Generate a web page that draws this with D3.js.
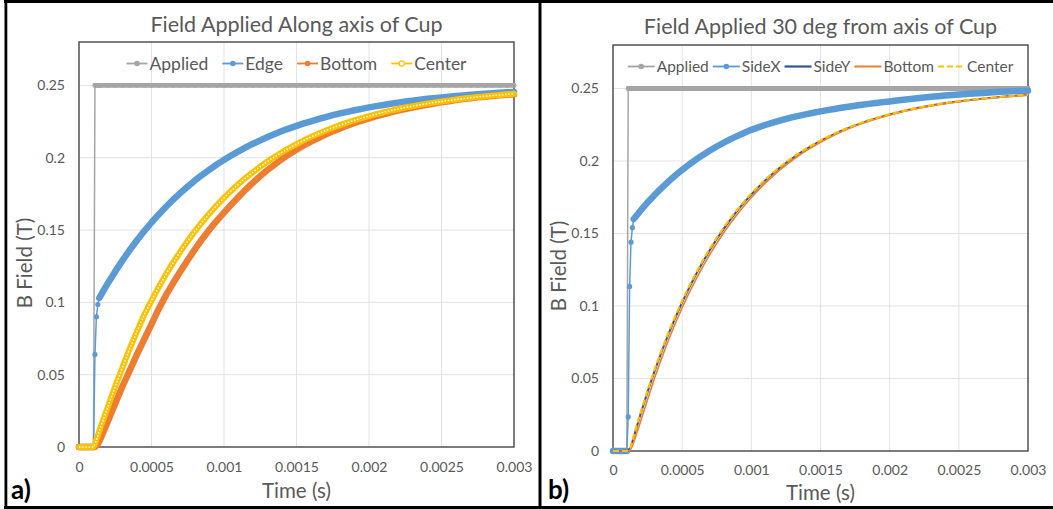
<!DOCTYPE html>
<html><head><meta charset="utf-8">
<script src="https://cdn.jsdelivr.net/npm/d3@7"></script>
<style>
body{margin:0;background:#fff}
svg{display:block}
text{font-family:Lato,"Open Sans",sans-serif}
</style></head>
<body><svg id="c" width="1053" height="509"></svg>
<script>
// ---------------- DATA ----------------
const times = [0,0.00005,0.0001,0.00011,0.00012,0.00013,0.00014,0.00015,0.0002,0.00025,0.0003,0.00035,0.0004,0.00045,0.0005,0.00055,0.0006,0.00065,0.0007,0.00075,0.0008,0.00085,0.0009,0.00095,0.001,0.00105,0.0011,0.00115,0.0012,0.00125,0.0013,0.00135,0.0014,0.00145,0.0015,0.00155,0.0016,0.00165,0.0017,0.00175,0.0018,0.00185,0.0019,0.00195,0.002,0.00205,0.0021,0.00215,0.0022,0.00225,0.0023,0.00235,0.0024,0.00245,0.0025,0.00255,0.0026,0.00265,0.0027,0.00275,0.0028,0.00285,0.0029,0.00295,0.003];
// time step of the original simulation output (markers are drawn that densely)
const sampleStep = 0.00001;

const xTicks = [0,0.0005,0.001,0.0015,0.002,0.0025,0.003];
const xTickLabels = ["0","0.0005","0.001","0.0015","0.002","0.0025","0.003"];
const yTicks = [0,0.05,0.1,0.15,0.2,0.25];
const yTickLabels = ["0","0.05","0.1","0.15","0.2","0.25"];

const appliedA = [0,0,0,0.25,0.25,0.25,0.25,0.25,0.25,0.25,0.25,0.25,0.25,0.25,0.25,0.25,0.25,0.25,0.25,0.25,0.25,0.25,0.25,0.25,0.25,0.25,0.25,0.25,0.25,0.25,0.25,0.25,0.25,0.25,0.25,0.25,0.25,0.25,0.25,0.25,0.25,0.25,0.25,0.25,0.25,0.25,0.25,0.25,0.25,0.25,0.25,0.25,0.25,0.25,0.25,0.25,0.25,0.25,0.25,0.25,0.25,0.25,0.25,0.25,0.25];
const edgeA = [0,0,0,0.064,0.090,0.0985,0.103,0.1048,0.1134,0.1214,0.1290,0.1362,0.1429,0.1493,0.1552,0.1608,0.1661,0.1711,0.1757,0.1801,0.1843,0.1882,0.1918,0.1953,0.1985,0.2015,0.2044,0.2071,0.2097,0.2120,0.2143,0.2164,0.2184,0.2203,0.2220,0.2237,0.2252,0.2267,0.2281,0.2294,0.2306,0.2317,0.2328,0.2338,0.2348,0.2357,0.2365,0.2373,0.2381,0.2388,0.2394,0.2401,0.2407,0.2412,0.2417,0.2422,0.2427,0.2431,0.2435,0.2439,0.2443,0.2446,0.2449,0.2452,0.2455];
const bottomA = [0,0,0,0,0.001,0.002,0.004,0.006,0.018,0.030,0.042,0.053,0.064,0.0745,0.085,0.0955,0.105,0.1135,0.1215,0.1293,0.1368,0.1438,0.1503,0.1564,0.1621,0.1676,0.1729,0.178,0.1828,0.1873,0.1915,0.1953,0.1991,0.2025,0.2055,0.2085,0.2112,0.2136,0.216,0.2182,0.2202,0.2222,0.224,0.2256,0.2272,0.2287,0.23,0.2313,0.2326,0.2337,0.2347,0.2357,0.2366,0.2375,0.2384,0.2391,0.2398,0.2405,0.2411,0.2417,0.2422,0.2427,0.2431,0.2435,0.2439];
const centerA = [0,0,0,0.002,0.005,0.008,0.011,0.014,0.028,0.042,0.055,0.068,0.080,0.0914,0.1012,0.1106,0.1194,0.1276,0.1353,0.1425,0.1493,0.1556,0.1615,0.1671,0.1723,0.1772,0.1818,0.1861,0.1901,0.1939,0.1974,0.2007,0.2038,0.2067,0.2094,0.2120,0.2144,0.2166,0.2187,0.2207,0.2225,0.2243,0.2259,0.2274,0.2288,0.2301,0.2314,0.2326,0.2337,0.2347,0.2356,0.2365,0.2374,0.2382,0.2389,0.2396,0.2403,0.2409,0.2415,0.2420,0.2425,0.2430,0.2434,0.2438,0.2442];

const appliedB = [0,0,0,0.25,0.25,0.25,0.25,0.25,0.25,0.25,0.25,0.25,0.25,0.25,0.25,0.25,0.25,0.25,0.25,0.25,0.25,0.25,0.25,0.25,0.25,0.25,0.25,0.25,0.25,0.25,0.25,0.25,0.25,0.25,0.25,0.25,0.25,0.25,0.25,0.25,0.25,0.25,0.25,0.25,0.25,0.25,0.25,0.25,0.25,0.25,0.25,0.25,0.25,0.25,0.25,0.25,0.25,0.25,0.25,0.25,0.25,0.25,0.25,0.25,0.25];
const sideXB = [0,0,0,0.0235,0.1135,0.144,0.154,0.160,0.1659,0.1714,0.1765,0.1813,0.1858,0.19,0.1939,0.1976,0.201,0.2042,0.2072,0.21,0.2126,0.2151,0.2173,0.2195,0.2215,0.2232,0.2248,0.2263,0.2277,0.229,0.2302,0.2313,0.2323,0.2333,0.2342,0.2351,0.2359,0.2367,0.2374,0.2381,0.2388,0.2394,0.24,0.2406,0.2411,0.2417,0.2423,0.2428,0.2433,0.2438,0.2443,0.2447,0.2451,0.2455,0.2459,0.2462,0.2465,0.2468,0.2471,0.2474,0.2477,0.2479,0.2481,0.2483,0.2485];
const sideYB = [0,0,0,0.0003,0.0012,0.003,0.0063,0.0097,0.0257,0.0408,0.0549,0.0681,0.0804,0.0918,0.1025,0.1125,0.1218,0.1305,0.1386,0.1462,0.1532,0.1598,0.1659,0.1716,0.1769,0.1819,0.1865,0.1908,0.1949,0.1986,0.2021,0.2054,0.2084,0.2112,0.2139,0.2163,0.2186,0.2207,0.2227,0.2246,0.2263,0.2279,0.2294,0.2308,0.2321,0.2333,0.2345,0.2355,0.2365,0.2374,0.2383,0.2391,0.2398,0.2405,0.2411,0.2417,0.2423,0.2428,0.2433,0.2437,0.2442,0.2446,0.2449,0.2453,0.2456];
const bottomB = [0,0,0,0,0.0003,0.0015,0.0035,0.006,0.0205,0.0355,0.0502,0.0636,0.0762,0.0879,0.0988,0.109,0.1184,0.1273,0.1356,0.1433,0.1505,0.1572,0.1635,0.1693,0.1748,0.1799,0.1847,0.1891,0.1933,0.1972,0.2008,0.2042,0.2073,0.2102,0.2129,0.2155,0.2179,0.2201,0.2222,0.2241,0.2258,0.2275,0.229,0.2304,0.2317,0.233,0.2341,0.2352,0.2362,0.2371,0.238,0.2388,0.2395,0.2402,0.2409,0.2415,0.2421,0.2426,0.2431,0.2435,0.244,0.2444,0.2447,0.2451,0.2454];
const centerB = [0,0,0,0.0005,0.0015,0.0035,0.0069,0.0104,0.0266,0.0418,0.056,0.0692,0.0815,0.0929,0.1036,0.1136,0.1228,0.1315,0.1396,0.1471,0.1541,0.1606,0.1667,0.1723,0.1776,0.1825,0.1871,0.1914,0.1954,0.1991,0.2026,0.2058,0.2088,0.2116,0.2142,0.2166,0.2189,0.221,0.223,0.2248,0.2265,0.2281,0.2296,0.231,0.2323,0.2335,0.2346,0.2357,0.2366,0.2375,0.2384,0.2392,0.2399,0.2406,0.2412,0.2418,0.2424,0.2429,0.2434,0.2438,0.2443,0.2446,0.245,0.2454,0.2457];

const titleA = "Field Applied Along axis of Cup";
const titleB = "Field Applied 30 deg from axis of Cup";
const namesA = ["Applied","Edge","Bottom","Center"];
const namesB = ["Applied","SideX","SideY","Bottom","Center"];
const yTitle = "B Field (T)";
const xTitle = "Time (s)";

// ---------------- DRAW ----------------
const svg = d3.select("#c");
const GRAY="#A5A5A5", BLUE="#5B9BD5", ORANGE="#ED7D31", YELLOW="#FFC000", NAVY="#2F5597", TXT="#595959";

function drawSeries(g, s, x, y){
  const pts = times.map((t,i)=>[x(t), y(s.values[i])]);
  const line = d3.line();
  g.append("path").attr("d", line(pts)).attr("fill","none")
    .attr("stroke", s.color).attr("stroke-width", s.thin)
    .attr("stroke-dasharray", s.dash || null)
    .attr("stroke-linejoin","round");
  if (s.band){
    // where the original samples sit closer than a marker, the markers merge into a band
    const runs=[]; let cur=[pts[0]];
    for(let i=1;i<pts.length;i++){
      const d=Math.hypot(pts[i][0]-pts[i-1][0], pts[i][1]-pts[i-1][1]);
      const steps=Math.max(1,Math.round((times[i]-times[i-1])/sampleStep));
      if(d/steps<=6){cur.push(pts[i]);} else {if(cur.length>1)runs.push(cur); cur=[pts[i]];}
    }
    if(cur.length>1)runs.push(cur);
    runs.forEach(r=>{
      g.append("path").attr("d", line(r)).attr("fill","none")
        .attr("stroke", s.color).attr("stroke-width", s.band)
        .attr("stroke-linejoin","round").attr("stroke-linecap","round");
      if(s.hollow){
        g.append("path").attr("d", line(r)).attr("fill","none")
          .attr("stroke","#fff").attr("stroke-width",1.5)
          .attr("stroke-dasharray","1.5 1.7").attr("stroke-linejoin","round");
      }
    });
  }
  if (s.marker && !s.hollow){
    g.selectAll(null).data(pts).enter().append("circle")
      .attr("cx",d=>d[0]).attr("cy",d=>d[1]).attr("r",s.marker).attr("fill",s.color);
  }
}

function panel(cfg){
  const g = svg.append("g");
  const p = cfg.plot;
  const x = d3.scaleLinear().domain([0,0.003]).range([p.x0,p.x1]);
  const y = d3.scaleLinear().domain([0,0.28]).range([p.y1,p.y0]);
  g.selectAll(null).data(xTicks.slice(1,-1)).enter().append("line")
    .attr("x1",d=>x(d)).attr("x2",d=>x(d)).attr("y1",p.y0).attr("y2",p.y1)
    .attr("stroke","#E3E3E3").attr("stroke-width",1);
  g.selectAll(null).data(yTicks.slice(1)).enter().append("line")
    .attr("y1",d=>y(d)).attr("y2",d=>y(d)).attr("x1",p.x0).attr("x2",p.x1)
    .attr("stroke","#E3E3E3").attr("stroke-width",1);
  g.append("rect").attr("x",p.x0).attr("y",p.y0).attr("width",p.x1-p.x0).attr("height",p.y1-p.y0)
    .attr("fill","none").attr("stroke","#454545").attr("stroke-width",1.4);
  const ax = g.append("g").attr("transform",`translate(0,${p.y1})`)
    .call(d3.axisBottom(x).tickValues(xTicks).tickFormat((d,i)=>xTickLabels[i]).tickSize(0).tickPadding(cfg.xPad));
  const ay = g.append("g").attr("transform",`translate(${p.x0},0)`)
    .call(d3.axisLeft(y).tickValues(yTicks).tickFormat((d,i)=>yTickLabels[i]).tickSize(0).tickPadding(cfg.yPad));
  [ax,ay].forEach(a=>{a.select(".domain").remove(); a.selectAll("text").attr("fill",TXT).style("font-size","14px").style("font-family","Lato,'Open Sans',sans-serif");});
  cfg.series.forEach(s=>drawSeries(g,s,x,y));
  g.append("text").attr("x",(p.x0+p.x1)/2).attr("y",cfg.titleY).attr("text-anchor","middle")
    .attr("fill",TXT).style("font-size","21.5px").text(cfg.title);
  const lg = g.append("g");
  const items=[]; let total=0;
  cfg.series.forEach((s,i)=>{
    const t = lg.append("text").attr("y",cfg.legendY+cfg.legendSize*0.36).attr("fill",TXT)
      .style("font-size",cfg.legendSize+"px").text(s.name);
    const w = t.node().getComputedTextLength();
    items.push({s,t,w}); total += cfg.mk + cfg.mkGap + w + (i<cfg.series.length-1?cfg.itemGap:0);
  });
  let cx = (p.x0+p.x1)/2 - total/2;
  items.forEach(it=>{
    const s=it.s, ly=cfg.legendY;
    lg.append("line").attr("x1",cx).attr("x2",cx+cfg.mk).attr("y1",ly).attr("y2",ly)
      .attr("stroke",s.color).attr("stroke-width",s.legendW||1.8).attr("stroke-dasharray",s.legendDash||null);
    if(s.marker){
      lg.append("circle").attr("cx",cx+cfg.mk/2).attr("cy",ly).attr("r",s.hollow?2.6:2.8)
        .attr("fill",s.hollow?"#fff":s.color).attr("stroke",s.hollow?s.color:"none").attr("stroke-width",1.2);
    }
    it.t.attr("x",cx+cfg.mk+cfg.mkGap);
    cx += cfg.mk+cfg.mkGap+it.w+cfg.itemGap;
  });
  g.append("text").attr("transform",`translate(${cfg.yTitleX},${cfg.yTitleY}) rotate(-90)`)
    .attr("text-anchor","middle").attr("fill",TXT).style("font-size","20.5px").text(yTitle);
  g.append("text").attr("x",(p.x0+p.x1)/2).attr("y",cfg.xTitleY).attr("text-anchor","middle")
    .attr("fill",TXT).style("font-size","20.5px").text(xTitle);
  g.append("text").attr("x",cfg.labelX).attr("y",cfg.labelY).attr("fill","#000")
    .style("font-size","26px").style("font-weight","bold").text(cfg.label);
}

panel({
  plot:{x0:79,x1:514,y0:42,y1:447}, xPad:15, yPad:14,
  title:titleA, titleY:32,
  legendY:63.5, legendSize:17.5, mk:21, mkGap:2, itemGap:14,
  yTitleX:32, yTitleY:263, xTitleY:498, label:"a)", labelX:11, labelY:499,
  series:[
    {name:namesA[0], values:appliedA, color:GRAY, thin:1.5, band:4.8, marker:2.4},
    {name:namesA[1], values:edgeA, color:BLUE, thin:1.5, band:6.5, marker:2.6},
    {name:namesA[2], values:bottomA, color:ORANGE, thin:1.5, band:6.5, marker:2.6},
    {name:namesA[3], values:centerA, color:YELLOW, thin:1.5, band:6, marker:2.6, hollow:true}
  ]
});
panel({
  plot:{x0:613,x1:1028,y0:45,y1:451}, xPad:14, yPad:14,
  title:titleB, titleY:33.5,
  legendY:66.5, legendSize:15.5, mk:27, mkGap:2, itemGap:4,
  yTitleX:566, yTitleY:266, xTitleY:500, label:"b)", labelX:548, labelY:499,
  series:[
    {name:namesB[0], values:appliedB, color:GRAY, thin:1.5, band:4.8, marker:2.4},
    {name:namesB[1], values:sideXB, color:BLUE, thin:1.5, band:6.5, marker:2.6},
    {name:namesB[2], values:sideYB, color:NAVY, thin:2, legendW:2.2},
    {name:namesB[3], values:bottomB, color:ORANGE, thin:1.6, legendW:2},
    {name:namesB[4], values:centerB, color:YELLOW, thin:2.2, dash:"6 3", legendW:2.2, legendDash:"6 3"}
  ]
});

const fr = svg.append("g").attr("fill","#000");
fr.append("rect").attr("x",4).attr("y",0).attr("width",1049).attr("height",3);
fr.append("rect").attr("x",4).attr("y",506).attr("width",1049).attr("height",3);
fr.append("rect").attr("x",4.5).attr("y",0).attr("width",2.8).attr("height",509);
fr.append("rect").attr("x",538.5).attr("y",0).attr("width",3).attr("height",509);
</script></body></html>
